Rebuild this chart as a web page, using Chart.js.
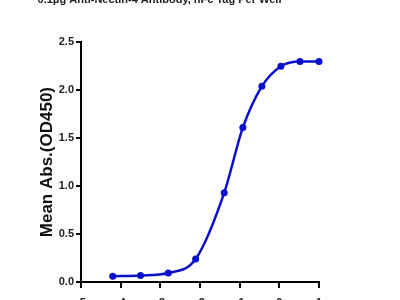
<!DOCTYPE html>
<html>
<head>
<meta charset="utf-8">
<script src="https://cdn.jsdelivr.net/npm/chart.js@4"></script>
<style>
  html, body { margin: 0; padding: 0; background: #fff; overflow: hidden; }
  #wrap { position: relative; width: 400px; height: 300px; overflow: hidden; }
  #wrap canvas { position: absolute; left: 0; top: -10px; }
</style>
</head>
<body>
<div id="wrap"><canvas id="grafico" width="400" height="310"></canvas></div>
<script>
// valores (log conc. vs OD450)
const logConc = [-4.2, -3.5, -2.8, -2.11, -1.39, -0.92, -0.44, 0.04, 0.52, 1.0];
const meanAbs = [0.06, 0.067, 0.094, 0.24, 0.93, 1.61, 2.04, 2.25, 2.30, 2.30];
const xTicks = [-5, -4, -3, -2, -1, 0, 1];
const yTicks = [0, 0.5, 1.0, 1.5, 2.0, 2.5];
const titulo = '0.1μg Anti-Nectin-4 Antibody, hFc Tag Per Well';
const tituloY = 'Mean Abs.(OD450)';

const pontos = logConc.map((x, i) => ({ x: x, y: meanAbs[i] }));
const azul = '#0a0fcc';

var ctx = document.getElementById('grafico').getContext('2d');
var grafico = new Chart(ctx, {
    type: 'line',
    data: {
        datasets: [{
            data: pontos,
            borderColor: azul,
            backgroundColor: azul,
            borderWidth: 2.5,
            pointRadius: 3.5,
            pointBorderWidth: 0,
            cubicInterpolationMode: 'monotone',
            clip: false,
            fill: false
        }]
    },
    options: {
        responsive: false,
        animation: false,
        layout: { padding: { left: 0, right: 81, top: 0, bottom: 0 } },
        plugins: {
            legend: { display: false },
            tooltip: { enabled: false },
            title: {
                display: true,
                text: titulo,
                color: '#222',
                font: { family: 'Liberation Sans, Arial', size: 11, weight: 'bold' },
                padding: { top: 3, bottom: 36 }
            }
        },
        scales: {
            x: {
                type: 'linear',
                min: -5,
                max: 1,
                afterBuildTicks: s => { s.ticks = xTicks.map(v => ({ value: v })); },
                afterFit: s => { s.height = 18; },
                border: { display: true, color: '#000', width: 2 },
                grid: { display: true, drawOnChartArea: false, drawTicks: true, tickLength: 6, color: '#000', lineWidth: 2 },
                ticks: {
                    color: '#222',
                    padding: 8,
                    maxRotation: 0,
                    font: { family: 'Liberation Sans, Arial', size: 11, weight: 'bold' }
                }
            },
            y: {
                type: 'linear',
                min: 0,
                max: 2.5,
                afterBuildTicks: s => { s.ticks = yTicks.map(v => ({ value: v })); },
                afterFit: s => { s.width = 81; },
                border: { display: true, color: '#000', width: 2 },
                grid: { display: true, drawOnChartArea: false, drawTicks: true, tickLength: 5, color: '#000', lineWidth: 2 },
                ticks: {
                    color: '#222',
                    padding: 2,
                    callback: v => v.toFixed(1),
                    font: { family: 'Liberation Sans, Arial', size: 11, weight: 'bold' }
                },
                title: {
                    display: true,
                    text: tituloY,
                    color: '#111',
                    font: { family: 'Liberation Sans, Arial', size: 17, weight: 'bold' },
                    padding: { top: 37, bottom: 0 }
                }
            }
        }
    }
});
</script>
</body>
</html>
